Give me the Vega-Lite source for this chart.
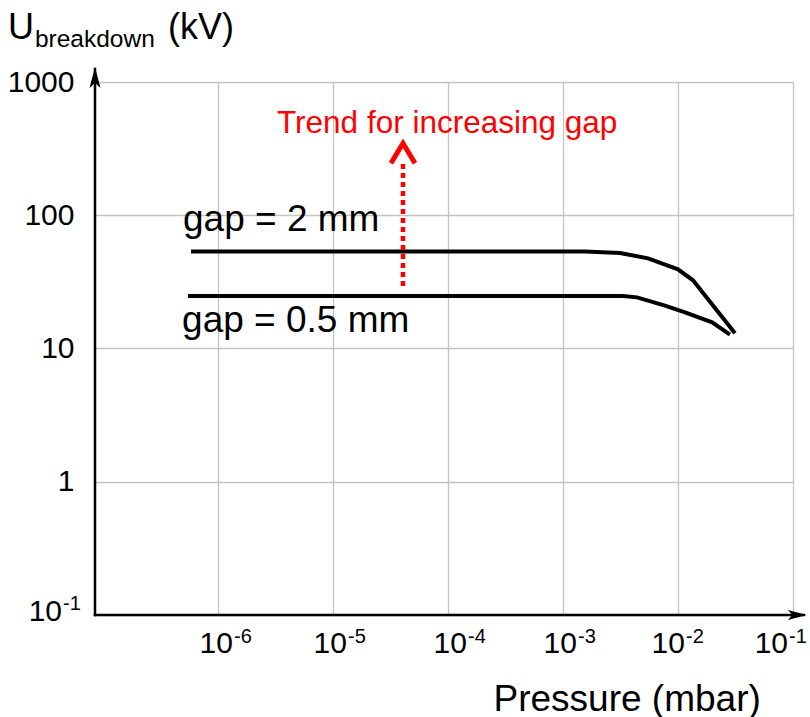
{
  "$schema": "https://vega.github.io/schema/vega-lite/v6.json",
  "width": 698,
  "height": 533,
  "autosize": {"type": "none"},
  "padding": {"left": 95, "top": 82, "right": 17, "bottom": 102},
  "background": "white",
  "config": {"view": {"stroke": null}, "font": "Liberation Sans", "text": {"font": "Liberation Sans"}},
  "datasets": {
    "curves": [
      {"gap": "2 mm", "p": 5.83e-7, "v": 53.5},
      {"gap": "2 mm", "p": 1.55e-3, "v": 53.5},
      {"gap": "2 mm", "p": 3.13e-3, "v": 52.1},
      {"gap": "2 mm", "p": 5.49e-3, "v": 47.5},
      {"gap": "2 mm", "p": 1.0e-2, "v": 39.3},
      {"gap": "2 mm", "p": 1.35e-2, "v": 32.5},
      {"gap": "2 mm", "p": 3.13e-2, "v": 13.0},
      {"gap": "0.5 mm", "p": 5.49e-7, "v": 24.8},
      {"gap": "0.5 mm", "p": 3.32e-3, "v": 24.8},
      {"gap": "0.5 mm", "p": 4.40e-3, "v": 24.2},
      {"gap": "0.5 mm", "p": 7.71e-3, "v": 21.0},
      {"gap": "0.5 mm", "p": 1.15e-2, "v": 18.7},
      {"gap": "0.5 mm", "p": 1.98e-2, "v": 15.7},
      {"gap": "0.5 mm", "p": 2.83e-2, "v": 12.7}
    ],
    "xticks": [
      {"p": 1e-6, "e": "-6"},
      {"p": 1e-5, "e": "-5"},
      {"p": 1e-4, "e": "-4"},
      {"p": 1e-3, "e": "-3"},
      {"p": 1e-2, "e": "-2"},
      {"p": 1e-1, "e": "-1"}
    ],
    "ytickLow": [
      {"p": 8.52e-8, "v": 0.1, "e": "-1"}
    ],
    "gapLabels": [
      {"label": "gap = 2 mm", "p": 4.96e-7, "v": 75.9},
      {"label": "gap = 0.5 mm", "p": 4.87e-7, "v": 13.2}
    ],
    "trend": [
      {"label": "Trend for increasing gap", "p": 3.26e-6, "v": 414}
    ],
    "titleBig": [
      {"label": "U", "p": 1.49e-8, "v": 2095},
      {"label": "(kV)", "p": 3.67e-7, "v": 2095}
    ],
    "titleSub": [
      {"label": "breakdown", "p": 2.56e-8, "v": 1842}
    ],
    "one": [{}]
  },
  "layer": [
    {
      "data": {"name": "curves"},
      "mark": {"type": "line", "color": "black", "strokeWidth": 4, "interpolate": "linear"},
      "encoding": {
        "x": {
          "field": "p", "type": "quantitative",
          "scale": {"type": "log", "domain": [8.52e-8, 0.1], "nice": false},
          "axis": {
            "values": [1e-6, 1e-5, 1e-4, 1e-3, 1e-2, 1e-1],
            "grid": true, "gridColor": "#c4c4c4", "gridWidth": 1.3,
            "ticks": false, "domain": false, "labels": false,
            "title": "Pressure (mbar)",
            "titleFont": "Liberation Sans", "titleFontSize": 37, "titleFontWeight": "normal", "titleColor": "black",
            "titleAlign": "left", "titleBaseline": "alphabetic", "titleX": 398, "titleY": 95
          }
        },
        "y": {
          "field": "v", "type": "quantitative",
          "scale": {"type": "log", "domain": [0.1, 1000], "nice": false},
          "axis": {
            "values": [0.1, 1, 10, 100, 1000],
            "grid": true, "gridColor": "#c4c4c4", "gridWidth": 1.3,
            "ticks": false, "domain": false,
            "labelFont": "Liberation Sans", "labelFontSize": 30, "labelColor": "black",
            "labelPadding": 21, "labelOverlap": false, "labelBound": false, "labelFlush": false,
            "labelExpr": "datum.value < 0.5 ? '' : format(datum.value, 'd')",
            "title": null
          }
        },
        "detail": {"field": "gap"}
      }
    },
    {
      "data": {"name": "xticks"},
      "mark": {"type": "text", "fontSize": 30, "align": "right", "baseline": "alphabetic", "color": "black", "dy": 38,
        "dx": {"expr": "datum.p > 0.05 ? -5 : datum.p > 0.005 ? 7 : datum.p > 5e-4 ? 14 : datum.p > 5e-5 ? 19 : datum.p > 5e-6 ? 14 : 15"}},
      "encoding": {
        "x": {"field": "p", "type": "quantitative"},
        "y": {"datum": 0.1},
        "text": {"value": "10"}
      }
    },
    {
      "data": {"name": "xticks"},
      "mark": {"type": "text", "fontSize": 20, "align": "left", "baseline": "alphabetic", "color": "black", "dy": 28,
        "dx": {"expr": "datum.p > 0.05 ? -4 : datum.p > 0.005 ? 8 : datum.p > 5e-4 ? 15 : datum.p > 5e-5 ? 20 : datum.p > 5e-6 ? 15 : 16"}},
      "encoding": {
        "x": {"field": "p", "type": "quantitative"},
        "y": {"datum": 0.1},
        "text": {"field": "e"}
      }
    },
    {
      "data": {"name": "ytickLow"},
      "mark": {"type": "text", "fontSize": 30, "align": "right", "baseline": "alphabetic", "color": "black", "dx": -33, "dy": 6},
      "encoding": {
        "x": {"field": "p", "type": "quantitative"},
        "y": {"field": "v", "type": "quantitative"},
        "text": {"value": "10"}
      }
    },
    {
      "data": {"name": "ytickLow"},
      "mark": {"type": "text", "fontSize": 20, "align": "left", "baseline": "alphabetic", "color": "black", "dx": -32, "dy": -5},
      "encoding": {
        "x": {"field": "p", "type": "quantitative"},
        "y": {"field": "v", "type": "quantitative"},
        "text": {"field": "e"}
      }
    },
    {
      "data": {"name": "one"},
      "mark": {"type": "rule", "color": "#ff0000", "strokeWidth": 4.5, "strokeDash": [5, 4]},
      "encoding": {
        "x": {"datum": 4.06e-5},
        "y": {"datum": 29.5},
        "y2": {"datum": 260}
      }
    },
    {
      "data": {"name": "one"},
      "mark": {"type": "point", "shape": "M-1,0.83L0,-0.83L1,0.83", "filled": false, "stroke": "#ff0000", "strokeWidth": 5, "size": 576, "opacity": 1, "strokeJoin": "miter"},
      "encoding": {
        "x": {"datum": 4.06e-5},
        "y": {"datum": 292}
      }
    },
    {
      "data": {"name": "one"},
      "mark": {"type": "rule", "color": "black", "strokeWidth": 2.5, "strokeCap": "square"},
      "encoding": {
        "x": {"datum": 8.52e-8},
        "y": {"datum": 0.1},
        "y2": {"datum": 1250}
      }
    },
    {
      "data": {"name": "one"},
      "mark": {"type": "rule", "color": "black", "strokeWidth": 2.5, "strokeCap": "square"},
      "encoding": {
        "x": {"datum": 8.52e-8},
        "x2": {"datum": 0.124},
        "y": {"datum": 0.1}
      }
    },
    {
      "data": {"name": "one"},
      "mark": {"type": "point", "shape": "M0,-1L0.5,0.9L0,0.45L-0.5,0.9Z", "filled": true, "color": "black", "size": 484, "opacity": 1},
      "encoding": {
        "x": {"datum": 8.52e-8},
        "y": {"datum": 1072}
      }
    },
    {
      "data": {"name": "one"},
      "mark": {"type": "point", "shape": "M1,0L-0.9,0.5L-0.45,0L-0.9,-0.5Z", "filled": true, "color": "black", "size": 400, "opacity": 1},
      "encoding": {
        "x": {"datum": 0.108},
        "y": {"datum": 0.1}
      }
    },
    {
      "data": {"name": "gapLabels"},
      "mark": {"type": "text", "fontSize": 37, "align": "left", "baseline": "alphabetic", "color": "black"},
      "encoding": {
        "x": {"field": "p", "type": "quantitative"},
        "y": {"field": "v", "type": "quantitative"},
        "text": {"field": "label"}
      }
    },
    {
      "data": {"name": "trend"},
      "mark": {"type": "text", "fontSize": 31.5, "align": "left", "baseline": "alphabetic", "color": "#ff0000"},
      "encoding": {
        "x": {"field": "p", "type": "quantitative"},
        "y": {"field": "v", "type": "quantitative"},
        "text": {"field": "label"}
      }
    },
    {
      "data": {"name": "titleBig"},
      "mark": {"type": "text", "fontSize": 36, "align": "left", "baseline": "alphabetic", "color": "black"},
      "encoding": {
        "x": {"field": "p", "type": "quantitative"},
        "y": {"field": "v", "type": "quantitative"},
        "text": {"field": "label"}
      }
    },
    {
      "data": {"name": "titleSub"},
      "mark": {"type": "text", "fontSize": 24.5, "align": "left", "baseline": "alphabetic", "color": "black"},
      "encoding": {
        "x": {"field": "p", "type": "quantitative"},
        "y": {"field": "v", "type": "quantitative"},
        "text": {"field": "label"}
      }
    }
  ]
}
